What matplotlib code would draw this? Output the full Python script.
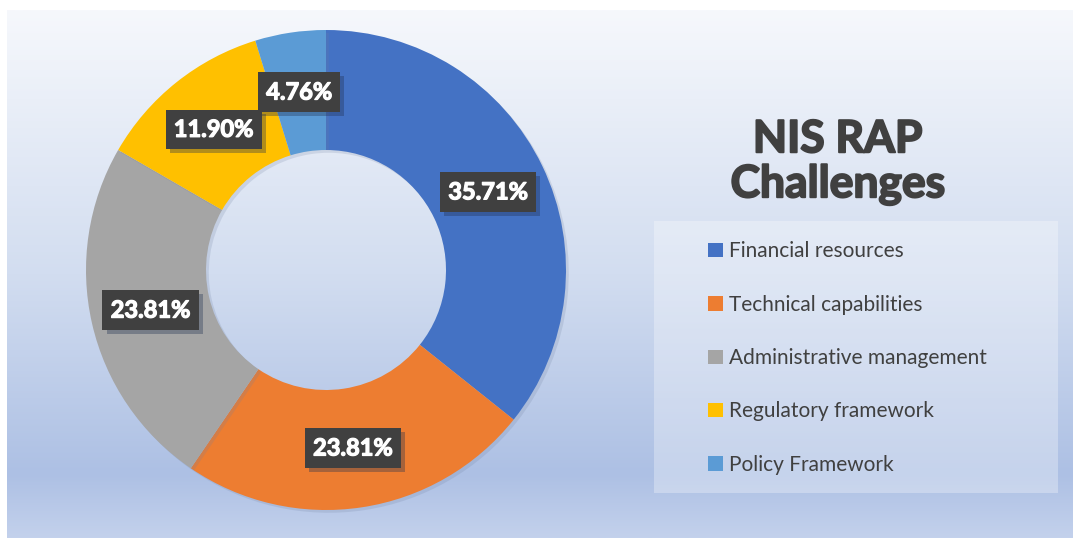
import numpy as np
import matplotlib
matplotlib.use("Agg")
import matplotlib.pyplot as plt
from matplotlib.patches import Rectangle, Patch
import matplotlib.patheffects as pe
from matplotlib.colors import LinearSegmentedColormap

plt.rcParams['font.family'] = ['Lato', 'DejaVu Sans']

# data
categories = ["Financial resources", "Technical capabilities", "Administrative management",
              "Regulatory framework", "Policy Framework"]
shares = [35.71, 23.81, 23.81, 11.90, 4.76]
colors = ["#4472C4", "#ED7D31", "#A5A5A5", "#FFC000", "#5B9BD5"]
title = "NIS RAP\nChallenges"

W, H = 1073, 538
fig = plt.figure(figsize=(W / 100, H / 100), dpi=100)
fig.patch.set_facecolor("white")

# background panel with vertical gradient
bg = fig.add_axes([7 / W, 0, 1 - 7 / W, (H - 10) / H])
bg.set_axis_off()
grad = LinearSegmentedColormap.from_list(
    "bg", [(0.0, "#c3d1ec"), (0.12, "#adc0e4"), (0.5, "#d2ddf0"), (1.0, "#f6f8fc")])
bg.imshow(np.linspace(0, 1, 256).reshape(-1, 1), cmap=grad, aspect="auto",
          origin="lower", extent=[0, 1, 0, 1])
bg.set_xlim(0, 1)
bg.set_ylim(0, 1)

# donut
cx, cy, r = 326, 270, 240
ax = fig.add_axes([(cx - r) / W, (H - cy - r) / H, 2 * r / W, 2 * r / H])
ax.set_axis_off()
wedges, _ = ax.pie(shares, colors=colors, startangle=90, counterclock=False, radius=1,
                   wedgeprops=dict(width=0.5, linewidth=0))
for w in wedges:
    w.set_path_effects([pe.SimplePatchShadow(offset=(2, -2), shadow_rgbFace="#7080a0", alpha=0.2),
                        pe.Normal()])
ax.set_xlim(-1, 1)
ax.set_ylim(-1, 1)
ax.set_aspect("equal")

start = 90.0
for val in shares:
    mid = np.deg2rad(start - val * 3.6 / 2)
    start -= val * 3.6
    t = ax.text(0.75 * np.cos(mid), 0.75 * np.sin(mid), f"{val:.2f}%", ha="center", va="center",
                fontsize=17, fontweight="bold", color="white",
                path_effects=[pe.withStroke(linewidth=0.9, foreground="white")],
                bbox=dict(boxstyle="square,pad=0.35", facecolor="#404040", edgecolor="none"))
    t.get_bbox_patch().set_path_effects([
        pe.SimplePatchShadow(offset=(3, -3), shadow_rgbFace="#203050", alpha=0.35), pe.Normal()])

# title
fig.text(838 / W, 1 - 162 / H, title, ha="center", va="center", fontsize=32,
         fontweight="bold", color="#404040", linespacing=1.15,
         path_effects=[pe.withStroke(linewidth=1.4, foreground="#404040")])

# legend
fig.add_artist(Rectangle((654 / W, 1 - 493 / H), (1058 - 654) / W, (493 - 221) / H,
                         transform=fig.transFigure, facecolor="white", alpha=0.3,
                         edgecolor="none"))
handles = [Patch(facecolor=c, edgecolor="none") for c in colors]
leg = fig.legend(handles, categories, loc="upper left", bbox_to_anchor=(698 / W, 1 - 231 / H),
                 frameon=False, fontsize=15, labelspacing=1.6, handlelength=0.7,
                 handleheight=0.7, handletextpad=0.3, borderpad=0)
for txt in leg.get_texts():
    txt.set_color("#404040")

fig.savefig("out.png", dpi=100)
